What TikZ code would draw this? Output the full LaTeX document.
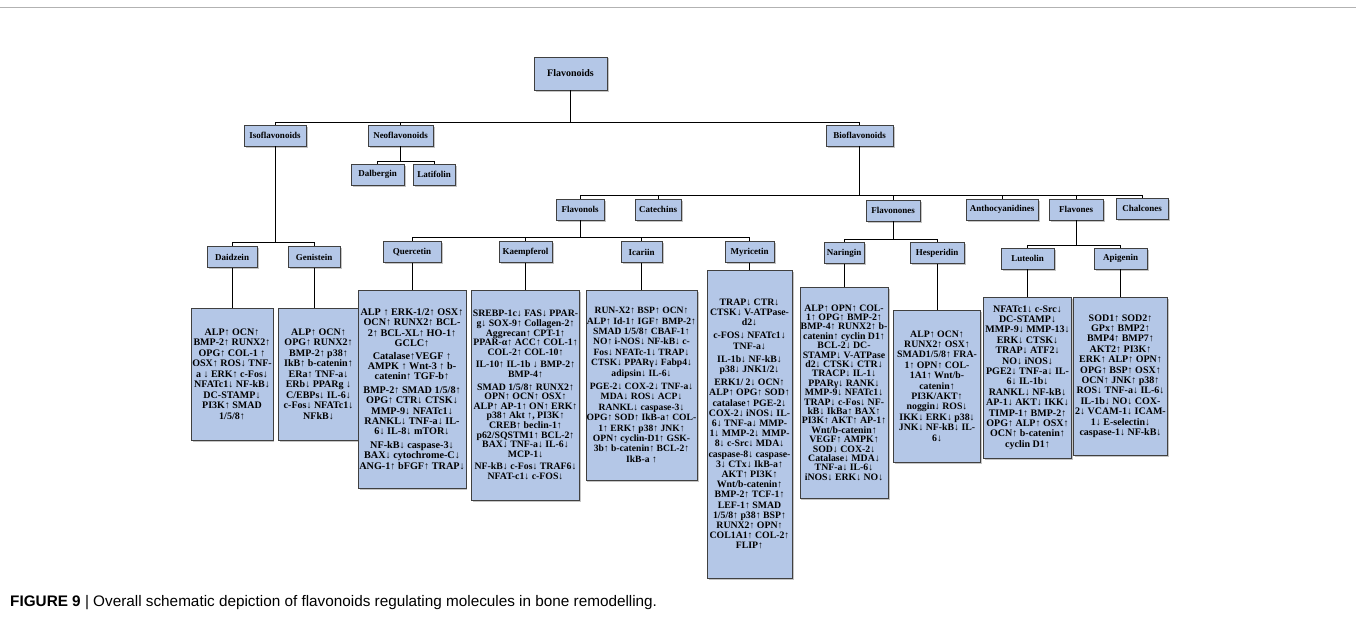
\documentclass[tikz,border=0pt]{standalone}
\usepackage{fontspec}
\setmainfont{Liberation Serif}
\setsansfont{Liberation Sans}
\usepackage{tikz}
\usetikzlibrary{shapes.geometric, arrows, shadows}
\definecolor{boxblue}{RGB}{180,199,231}
\definecolor{boxedge}{RGB}{64,64,64}
\tikzstyle{category} = [rectangle, minimum height=21pt, inner sep=1pt, text centered, draw=boxedge, fill=boxblue, font=\bfseries\fontsize{9}{10}\selectfont, drop shadow={shadow xshift=1.5pt, shadow yshift=-1.5pt, fill=black!45}]
\tikzstyle{effects} = [rectangle, inner sep=1pt, align=center, draw=boxedge, fill=boxblue, font=\bfseries\fontsize{10}{10.4}\selectfont, drop shadow={shadow xshift=1.5pt, shadow yshift=-1.5pt, fill=black!45}]
\tikzstyle{line} = [line width=0.8pt, -]
\begin{document}
\begin{tikzpicture}[node distance=62pt]
\useasboundingbox (0,0) rectangle (1356pt,-618pt);
\draw [gray!60, line width=1pt] (0,-8pt) -- (1356pt,-8pt);
            % top levels
            \node (flav) [category, minimum width=73pt, minimum height=33pt, font=\bfseries\fontsize{10}{11}\selectfont] at (570.5pt,-73.5pt) {Flavonoids};
            \node (iso) [category, minimum width=62pt, below of=flav, xshift=-295.5pt] {Isoflavonoids};
            \node (neo) [category, minimum width=65pt, right of=iso, xshift=63.5pt] {Neoflavonoids};
            \node (bio) [category, minimum width=67pt, right of=neo, xshift=397pt] {Bioflavonoids};
            \node (dal) [category, minimum width=53pt, below of=neo, xshift=-23pt, yshift=23pt] {Dalbergin};
            \node (lat) [category, minimum width=42pt, right of=dal, xshift=-5.5pt] {Latifolin};
            \node (fol) [category, minimum width=48pt, below of=bio, xshift=-279.5pt, yshift=-12pt] {Flavonols};
            \node (cat) [category, minimum width=46pt, right of=fol, xshift=16pt] {Catechins};
            \node (fon) [category, minimum width=54pt, right of=cat, xshift=173pt, yshift=-1pt] {Flavonones};
            \node (ant) [category, minimum width=72pt, right of=fon, xshift=47pt, yshift=1pt] {Anthocyanidines};
            \node (fone) [category, minimum width=54pt, right of=ant, xshift=12pt] {Flavones};
            \node (chal) [category, minimum width=52pt, right of=fone, xshift=4pt, yshift=1pt] {Chalcones};
            % compounds
            \node (dai) [category, minimum width=50pt, below of=iso, xshift=-43pt, yshift=-59.5pt] {Daidzein};
            \node (gen) [category, minimum width=52pt, right of=dai, xshift=20pt] {Genistein};
            \node (que) [category, minimum width=58pt, below of=fol, xshift=-168pt, yshift=19.5pt] {Quercetin};
            \node (kae) [category, minimum width=53pt, right of=que, xshift=51.5pt] {Kaempferol};
            \node (ica) [category, minimum width=41pt, right of=kae, xshift=54pt] {Icariin};
            \node (myr) [category, minimum width=49pt, right of=ica, xshift=46pt] {Myricetin};
            \node (nar) [category, minimum width=40pt, below of=fon, xshift=-49pt, yshift=19.5pt] {Naringin};
            \node (hes) [category, minimum width=54pt, right of=nar, xshift=31pt] {Hesperidin};
            \node (lut) [category, minimum width=53pt, below of=fone, xshift=-48.5pt, yshift=13pt] {Luteolin};
            \node (api) [category, minimum width=53pt, right of=lut, xshift=31pt] {Apigenin};
            % regulated molecules
            \node (dai1) [effects, minimum width=81pt, minimum height=132pt, font=\bfseries\fontsize{10}{10.5}\selectfont, below of=dai, yshift=-55pt] {ALP↑ OCN↑\\ BMP-2↑ RUNX2↑\\ OPG↑ COL-1 ↑\\ OSX↑ ROS↓ TNF-\\ a ↓ ERK↑ c-Fos↓\\ NFATc1↓ NF-kB↓\\ DC-STAMP↓\\ PI3K↑ SMAD\\ 1/5/8↑};
            \node (gen1) [effects, minimum width=81pt, minimum height=132pt, font=\bfseries\fontsize{10}{10.5}\selectfont, below of=gen, xshift=4.5pt, yshift=-55pt] {ALP↑ OCN↑\\ OPG↑ RUNX2↑\\ BMP-2↑ p38↑\\ IkB↑ b-catenin↑\\ ERa↑ TNF-a↓\\ ERb↓ PPARg ↓\\ C/EBPs↓ IL-6↓\\ c-Fos↓ NFATc1↓\\ NFkB↓};
            \node (que1) [effects, minimum width=105pt, minimum height=198pt, font=\bfseries\fontsize{10.2}{10.4}\selectfont, below of=que, yshift=-75pt] {ALP ↑ ERK-1/2↑ OSX↑\\ OCN↑ RUNX2↑ BCL-\\ 2↑ BCL-XL↑ HO-1↑\\ GCLC↑\\[2pt] Catalase↑VEGF ↑\\ AMPK ↑ Wnt-3 ↑ b-\\ catenin↑ TGF-b↑\\[3pt] BMP-2↑ SMAD 1/5/8↑\\ OPG↑ CTR↓ CTSK↓\\ MMP-9↓ NFATc1↓\\ RANKL↓ TNF-a↓ IL-\\ 6↓ IL-8↓ mTOR↓\\[3pt] NF-kB↓ caspase-3↓\\ BAX↓ cytochrome-C↓\\ ANG-1↑ bFGF↑ TRAP↓};
            \node (kae1) [effects, minimum width=108pt, minimum height=210pt, font=\bfseries\fontsize{9.8}{9.6}\selectfont, below of=kae, yshift=-81pt] {SREBP-1c↓ FAS↓ PPAR-\\ g↓ SOX-9↑ Collagen-2↑\\ Aggrecan↑ CPT-1↑\\ PPAR-α↑ ACC↑ COL-1↑\\ COL-2↑ COL-10↑\\[3pt] IL-10↑ IL-1b ↓ BMP-2↑\\ BMP-4↑\\[3pt] SMAD 1/5/8↑ RUNX2↑\\ OPN↑ OCN↑ OSX↑\\ ALP↑ AP-1↑ ON↑ ERK↑\\ p38↑ Akt ↑, PI3K↑\\ CREB↑ beclin-1↑\\ p62/SQSTM1↑ BCL-2↑\\ BAX↓ TNF-a↓ IL-6↓\\ MCP-1↓\\[3pt] NF-kB↓ c-Fos↓ TRAF6↓\\ NFAT-c1↓ c-FOS↓};
            \node (ica1) [effects, minimum width=111pt, minimum height=190pt, font=\bfseries\fontsize{9.6}{10.4}\selectfont, below of=ica, yshift=-71pt] {RUN-X2↑ BSP↑ OCN↑\\ ALP↑ Id-1↑ IGF↑ BMP-2↑\\ SMAD 1/5/8↑ CBAF-1↑\\ NO↑ i-NOS↓ NF-kB↓ c-\\ Fos↓ NFATc-1↓ TRAP↓\\ CTSK↓ PPARγ↓ Fabp4↓\\ adipsin↓ IL-6↓\\[3pt] PGE-2↓ COX-2↓ TNF-a↓\\ MDA↓ ROS↓ ACP↓\\ RANKL↓ caspase-3↓\\ OPG↑ SOD↑ IkB-a↑ COL-\\ 1↑ ERK↑ p38↑ JNK↑\\ OPN↑ cyclin-D1↑ GSK-\\ 3b↑ b-catenin↑ BCL-2↑\\ IkB-a ↑};
            \node (myr1) [effects, minimum width=85pt, minimum height=308pt, font=\bfseries\fontsize{9.8}{10.2}\selectfont, below of=myr, yshift=-110pt] {TRAP↓ CTR↓\\ CTSK↓ V-ATPase-\\ d2↓\\[3pt] c-FOS↓ NFATc1↓\\ TNF-a↓\\[3pt] IL-1b↓ NF-kB↓\\ p38↓ JNK1/2↓\\[3pt] ERK1/ 2↓ OCN↑\\ ALP↑ OPG↑ SOD↑\\ catalase↑ PGE-2↓\\ COX-2↓ iNOS↓ IL-\\ 6↓ TNF-a↓ MMP-\\ 1↓ MMP-2↓ MMP-\\ 8↓ c-Src↓ MDA↓\\ caspase-8↓ caspase-\\ 3↓ CTx↓ IkB-a↑\\ AKT↑ PI3K↑\\ Wnt/b-catenin↑\\ BMP-2↑ TCF-1↑\\ LEF-1↑ SMAD\\ 1/5/8↑ p38↑ BSP↑\\ RUNX2↑ OPN↑\\ COL1A1↑ COL-2↑\\ FLIP↑};
            \node (nar1) [effects, minimum width=87pt, minimum height=211pt, font=\bfseries\fontsize{9.8}{9.4}\selectfont, below of=nar, yshift=-77.5pt] {ALP↑ OPN↑ COL-\\ 1↑ OPG↑ BMP-2↑\\ BMP-4↑ RUNX2↑ b-\\ catenin↑ cyclin D1↑\\ BCL-2↓ DC-\\ STAMP↓ V-ATPase\\ d2↓ CTSK↓ CTR↓\\ TRACP↓ IL-1↓\\ PPARγ↓ RANK↓\\ MMP-9↓ NFATc1↓\\ TRAP↓ c-Fos↓ NF-\\ kB↓ IkBa↑ BAX↑\\ PI3K↑ AKT↑ AP-1↑\\ Wnt/b-catenin↑\\ VEGF↑ AMPK↑\\ SOD↓ COX-2↓\\ Catalase↓ MDA↓\\ TNF-a↓ IL-6↓\\ iNOS↓ ERK↓ NO↓};
            \node (hes1) [effects, minimum width=87pt, minimum height=152pt, font=\bfseries\fontsize{9.8}{10.4}\selectfont, below of=hes, yshift=-71pt] {ALP↑ OCN↑\\ RUNX2↑ OSX↑\\ SMAD1/5/8↑ FRA-\\ 1↑ OPN↑ COL-\\ 1A1↑ Wnt/b-\\ catenin↑\\ PI3K/AKT↑\\ noggin↓ ROS↓\\ IKK↓ ERK↓ p38↓\\ JNK↓ NF-kB↓ IL-\\ 6↓};
            \node (lut1) [effects, minimum width=88pt, minimum height=161pt, below of=lut, yshift=-57pt] {NFATc1↓ c-Src↓\\ DC-STAMP↓\\ MMP-9↓ MMP-13↓\\ ERK↓ CTSK↓\\ TRAP↓ ATF2↓\\ NO↓ iNOS↓\\ PGE2↓ TNF-a↓ IL-\\ 6↓ IL-1b↓\\ RANKL↓ NF-kB↓\\ AP-1↓ AKT↓ IKK↓\\ TIMP-1↑ BMP-2↑\\ OPG↑ ALP↑ OSX↑\\ OCN↑ b-catenin↑\\ cyclin D1↑};
            \node (api1) [effects, minimum width=94pt, minimum height=158pt, below of=api, yshift=-55.5pt] {SOD1↑ SOD2↑\\ GPx↑ BMP2↑\\ BMP4↑ BMP7↑\\ AKT2↑ PI3K↑\\ ERK↑ ALP↑ OPN↑\\ OPG↑ BSP↑ OSX↑\\ OCN↑ JNK↑ p38↑\\ ROS↓ TNF-a↓ IL-6↓\\ IL-1b↓ NO↓ COX-\\ 2↓ VCAM-1↓ ICAM-\\ 1↓ E-selectin↓\\ caspase-1↓ NF-kB↓};
            \node (cap) [anchor=base west, inner sep=0pt, font=\sffamily\fontsize{15.3}{17}\selectfont] at (10pt,-606pt) {\textbf{FIGURE 9} | Overall schematic depiction of flavonoids regulating molecules in bone remodelling.};
            % tree lines
            \draw [line] (flav.south) -- ++(0,-32pt) -| (iso.north);
            \draw [line] (flav.south) -- ++(0,-32pt) -| (neo.north);
            \draw [line] (flav.south) -- ++(0,-32pt) -| (bio.north);
            \draw [line] (neo.south) -- ++(0,-15pt) -| (dal.north);
            \draw [line] (neo.south) -- ++(0,-15pt) -| (lat.north);
            \draw [line] (bio.south) -- ++(0,-49pt) -| (fol.north);
            \draw [line] (bio.south) -- ++(0,-49pt) -| (cat.north);
            \draw [line] (bio.south) -- ++(0,-49pt) -| (fon.north);
            \draw [line] (bio.south) -- ++(0,-49pt) -| (ant.north);
            \draw [line] (bio.south) -- ++(0,-49pt) -| (fone.north);
            \draw [line] (bio.south) -- ++(0,-49pt) -| (chal.north);
            \draw [line] (iso.south) -- ++(0,-96pt) -| (dai.north);
            \draw [line] (iso.south) -- ++(0,-96pt) -| (gen.north);
            \draw [line] (fol.south) -- ++(0,-17pt) -| (que.north);
            \draw [line] (fol.south) -- ++(0,-17pt) -| (kae.north);
            \draw [line] (fol.south) -- ++(0,-17pt) -| (ica.north);
            \draw [line] (fol.south) -- ++(0,-17pt) -| (myr.north);
            \draw [line] (fon.south) -- ++(0,-18pt) -| (nar.north);
            \draw [line] (fon.south) -- ++(0,-18pt) -| (hes.north);
            \draw [line] (fone.south) -- ++(0,-25pt) -| (lut.north);
            \draw [line] (fone.south) -- ++(0,-25pt) -| (api.north);
            \draw [line] (dai) -- (dai1);
            \draw [line] (gen.south) -- (gen.south |- gen1.north);
            \draw [line] (que) -- (que1);
            \draw [line] (kae) -- (kae1);
            \draw [line] (ica) -- (ica1);
            \draw [line] (myr) -- (myr1);
            \draw [line] (nar) -- (nar1);
            \draw [line] (hes) -- (hes1);
            \draw [line] (lut) -- (lut1);
            \draw [line] (api) -- (api1);
\end{tikzpicture}
\end{document}
